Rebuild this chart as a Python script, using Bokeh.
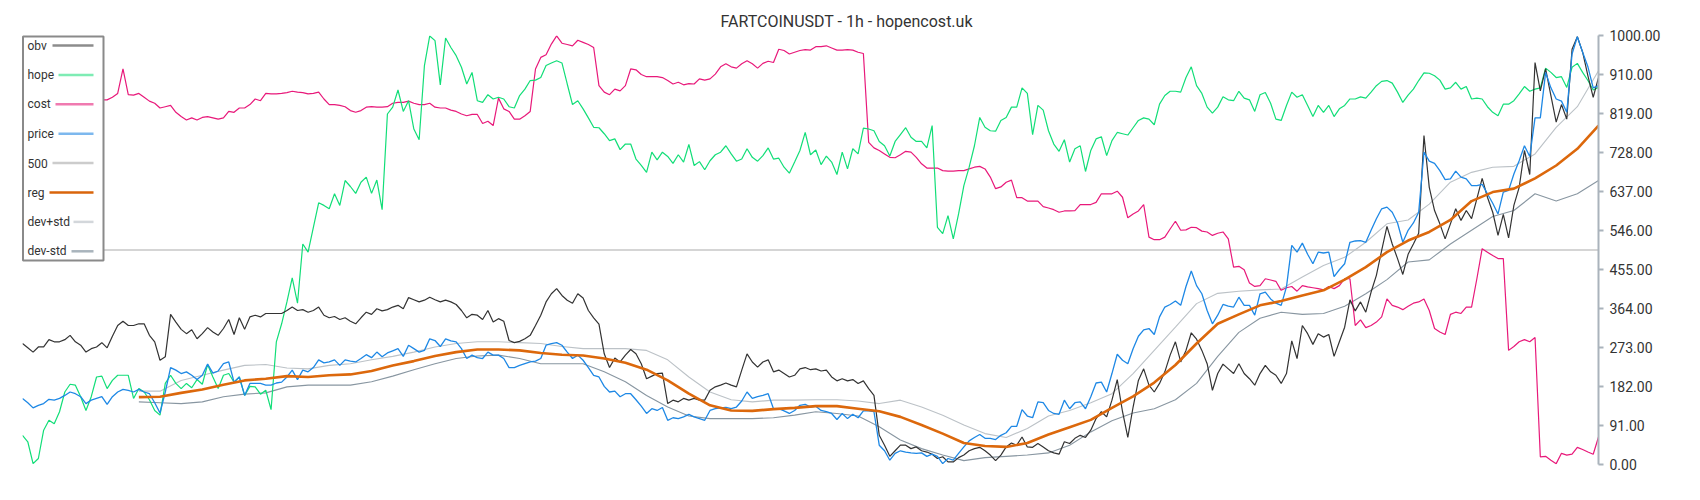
from bokeh.plotting import figure
from bokeh.models import Range1d, FixedTicker, PrintfTickFormatter
from bokeh.core.properties import value
from bokeh.embed import file_html
from bokeh.resources import INLINE

title_text = "FARTCOINUSDT - 1h - hopencost.uk"
y_ticks = [0, 91, 182, 273, 364, 455, 546, 637, 728, 819, 910, 1000]

obv = [
    282, 272, 262, 274, 274, 291, 286, 286, 291, 301,
    286, 278, 262, 270, 274, 284, 272, 299, 324, 334,
    324, 324, 328, 328, 301, 286, 243, 251, 350, 332,
    315, 305, 314, 293, 305, 319, 309, 301, 317, 338,
    303, 342, 315, 344, 348, 344, 352, 352, 352, 352,
    359, 367, 359, 361, 355, 359, 367, 348, 342, 345,
    338, 342, 334, 328, 342, 355, 350, 363, 358, 361,
    367, 371, 363, 389, 384, 379, 383, 390, 384, 379,
    383, 379, 373, 359, 342, 350, 348, 338, 359, 332,
    340, 334, 289, 284, 287, 293, 301, 324, 348, 379,
    398, 410, 394, 383, 376, 398, 388, 359, 342, 327,
    258, 226, 248, 239, 255, 268, 258, 235, 200, 206,
    212, 213, 142, 150, 146, 154, 150, 154, 150, 150,
    173, 181, 185, 190, 185, 181, 220, 258, 239, 227,
    239, 244, 216, 220, 212, 204, 208, 223, 226, 221,
    223, 218, 220, 204, 195, 200, 195, 198, 189, 195,
    177, 161, 68, 45, 19, 32, 45, 45, 37, 41,
    32, 29, 24, 14, 18, 6, 6, 16, 22, 32,
    37, 40, 32, 22, 9, 22, 41, 50, 45, 64,
    41, 40, 49, 41, 32, 27, 24, 53, 49, 61,
    68, 63, 80, 107, 123, 111, 150, 198, 123, 63,
    134, 196, 223, 185, 169, 189, 216, 255, 286, 239,
    266, 307, 292, 266, 235, 173, 212, 234, 223, 212,
    235, 212, 200, 185, 212, 231, 216, 208, 189, 212,
    288, 247, 324, 305, 280, 305, 297, 303, 252, 286,
    320, 384, 358, 379, 355, 402, 441, 499, 555, 514,
    480, 443, 490, 514, 539, 767, 646, 592, 561, 526,
    561, 596, 569, 592, 573, 619, 667, 623, 588, 534,
    583, 528, 604, 646, 732, 676, 937, 871, 922, 860,
    798, 839, 805, 968, 997, 961, 906, 856, 902,
]

hope = [
    68, 53, 2, 14, 80, 103, 95, 123, 169, 187,
    185, 158, 126, 158, 204, 206, 177, 196, 208, 208,
    208, 154, 177, 169, 151, 126, 115, 189, 208, 189,
    177, 189, 179, 198, 187, 233, 204, 177, 208, 212,
    192, 204, 161, 182, 181, 164, 173, 128, 286, 328,
    379, 435, 376, 514, 495, 553, 610, 604, 596, 631,
    604, 662, 648, 632, 658, 670, 632, 663, 594, 817,
    833, 873, 823, 848, 782, 757, 930, 999, 988, 885,
    994, 972, 953, 926, 887, 914, 848, 844, 862, 852,
    856, 852, 834, 831, 860, 875, 895, 896, 902, 930,
    936, 941, 936, 887, 839, 848, 829, 808, 786, 785,
    771, 755, 759, 734, 747, 747, 712, 697, 681, 728,
    710, 728, 718, 702, 722, 705, 746, 697, 706, 687,
    708, 722, 728, 743, 724, 707, 712, 736, 716, 707,
    720, 738, 712, 714, 693, 679, 705, 732, 774, 722,
    733, 699, 719, 705, 676, 728, 689, 736, 724, 784,
    782, 778, 753, 743, 719, 753, 769, 785, 763, 753,
    753, 738, 790, 553, 538, 580, 526, 584, 650, 693,
    743, 809, 786, 778, 777, 802, 809, 833, 833, 878,
    865, 769, 837, 826, 778, 747, 730, 757, 705, 736,
    743, 683, 732, 759, 764, 720, 755, 774, 771, 768,
    785, 802, 808, 805, 792, 840, 860, 870, 870, 868,
    902, 927, 883, 865, 833, 819, 833, 857, 850, 848,
    870, 854, 850, 823, 862, 867, 842, 805, 802, 837,
    868, 856, 862, 837, 811, 837, 821, 837, 811, 829,
    837, 852, 852, 857, 854, 868, 883, 893, 895, 889,
    868, 844, 861, 875, 895, 913, 912, 906, 896, 875,
    878, 891, 875, 881, 852, 854, 852, 834, 821, 813,
    840, 840, 848, 864, 881, 870, 875, 878, 924, 914,
    902, 904, 879, 926, 935, 914, 895, 873, 879,
]

cost = [
    848, 852, 850, 846, 850, 855, 851, 847, 850, 853,
    849, 846, 850, 852, 849, 850, 850, 856, 865, 922,
    862, 861, 865, 856, 847, 842, 831, 834, 837, 821,
    811, 803, 808, 803, 809, 811, 808, 805, 808, 823,
    821, 831, 831, 839, 852, 848, 865, 864, 864, 865,
    867, 870, 868, 867, 864, 865, 868, 852, 839, 839,
    837, 834, 825, 821, 825, 833, 834, 833, 833, 834,
    842, 844, 844, 847, 842, 839, 839, 842, 833, 831,
    831, 826, 823, 817, 813, 816, 816, 795, 800, 790,
    854, 829, 823, 805, 805, 813, 823, 922, 949, 955,
    980, 999, 982, 979, 976, 989, 984, 979, 972, 883,
    868, 862, 875, 871, 883, 922, 920, 909, 904, 904,
    904, 902, 895, 887, 891, 885, 888, 887, 899, 896,
    899, 910, 927, 934, 927, 924, 934, 941, 934, 924,
    935, 940, 937, 968, 965, 957, 961, 965, 967, 966,
    974, 974, 976, 971, 966, 966, 967, 966, 961, 958,
    751, 738, 732, 724, 716, 715, 722, 730, 728, 716,
    701, 691, 691, 691, 685, 684, 684, 685, 685, 689,
    693, 695, 689, 670, 643, 647, 658, 663, 622, 622,
    614, 614, 614, 601, 598, 594, 588, 591, 591, 592,
    606, 606, 606, 611, 631, 631, 631, 637, 623, 575,
    584, 591, 606, 530, 524, 524, 530, 549, 567, 546,
    547, 553, 552, 544, 542, 534, 539, 542, 526, 460,
    462, 454, 423, 415, 417, 433, 430, 427, 406, 412,
    415, 404, 417, 414, 412, 410, 407, 415, 410, 417,
    433, 433, 324, 337, 319, 324, 332, 344, 386, 371,
    367, 361, 369, 376, 379, 386, 359, 317, 309, 303,
    350, 355, 352, 367, 367, 433, 503, 495, 487, 480,
    480, 266, 275, 286, 291, 286, 296, 18, 19, 10,
    2, 26, 22, 24, 40, 35, 29, 24, 64,
]

price = [
    154, 144, 132, 138, 142, 152, 150, 154, 161, 169,
    165, 158, 142, 150, 154, 158, 140, 158, 169, 175,
    173, 169, 175, 169, 165, 144, 120, 169, 226, 220,
    212, 216, 208, 198, 208, 234, 213, 218, 235, 239,
    192, 204, 161, 189, 189, 189, 185, 185, 190, 192,
    204, 220, 198, 220, 216, 226, 244, 237, 239, 244,
    231, 244, 241, 239, 247, 256, 249, 262, 251, 260,
    265, 270, 252, 278, 270, 262, 266, 293, 289, 275,
    293, 288, 286, 270, 247, 255, 249, 247, 262, 255,
    255, 247, 226, 226, 231, 235, 239, 241, 247, 278,
    282, 284, 278, 262, 247, 255, 243, 226, 208, 204,
    182, 169, 171, 158, 165, 165, 151, 136, 119, 130,
    126, 133, 103, 109, 107, 111, 117, 111, 107, 103,
    126, 130, 132, 133, 130, 134, 148, 169, 154, 158,
    161, 165, 130, 130, 125, 119, 126, 138, 140, 134,
    136, 126, 123, 119, 105, 119, 107, 117, 109, 125,
    125, 123, 45, 32, 10, 26, 32, 29, 27, 26,
    27, 19, 24, 19, 2, 14, 10, 26, 41, 55,
    63, 70, 61, 61, 58, 68, 74, 89, 89, 128,
    113, 109, 146, 144, 126, 119, 117, 150, 130, 144,
    146, 130, 158, 190, 192, 169, 212, 257, 243, 235,
    270, 299, 314, 317, 303, 344, 367, 373, 381, 371,
    415, 451, 417, 398, 359, 328, 348, 373, 369, 367,
    390, 371, 371, 348, 398, 402, 386, 376, 371, 414,
    511, 495, 516, 490, 468, 495, 493, 495, 438, 454,
    468, 518, 521, 522, 518, 546, 573, 596, 600, 588,
    563, 518, 546, 563, 588, 728, 707, 702, 685, 664,
    666, 684, 670, 666, 650, 650, 653, 631, 609, 584,
    635, 639, 677, 708, 743, 718, 808, 808, 914, 878,
    852, 847, 821, 957, 997, 961, 927, 878, 883,
]

level_500 = 500

# smoothed series sampled every 4 bars, starting at bar 22
smooth_start = 22
smooth_step = 4
reg = [
    157, 158, 167, 175, 186, 196, 200, 206, 204, 208,
    210, 218, 231, 241, 253, 262, 268, 268, 266, 260, 256, 254, 247, 237, 221,
    196, 165, 138, 126, 125, 129, 132, 136, 136, 130, 124, 111, 92, 72, 50,
    43, 41, 50, 70, 87, 104, 132, 159, 191, 232, 282, 328, 350, 371, 381,
    394, 406, 431, 460, 495, 522, 542, 570, 614, 635, 643, 667, 697, 736, 790,
]
dev_plus_std = [
    171, 171, 196, 208, 220, 231, 233, 225, 223, 231,
    235, 244, 252, 262, 274, 282, 286, 286, 284, 282, 275, 270, 270, 270, 266,
    244, 204, 169, 151, 146, 150, 150, 151, 151, 148, 142, 150, 134, 115, 92,
    72, 63, 84, 113, 126, 144, 165, 212, 266, 320, 375, 399, 404, 407, 409,
    437, 464, 483, 518, 561, 570, 607, 658, 681, 693, 695, 724, 786, 834, 918,
]
dev_minus_std = [
    146, 144, 142, 146, 158, 164, 167, 181, 185, 185,
    185, 193, 206, 221, 235, 247, 253, 255, 247, 235, 235, 235, 216, 193, 161,
    134, 113, 107, 107, 107, 109, 115, 123, 119, 113, 88, 57, 37, 22, 9,
    16, 19, 22, 27, 45, 76, 102, 120, 130, 151, 189, 252, 308, 341, 355,
    350, 352, 369, 398, 431, 472, 477, 514, 546, 578, 592, 631, 614, 631, 662,
]

legend_names = ["obv", "hope", "cost", "price", "500", "reg", "dev+std", "dev-std"]

# ---------------------------------------------------------------- layout
FRAME_W, FRAME_H = 1576, 429
FRAME_L, FRAME_T = 30, 35          # page pixel position of the frame
X_MAX = len(obv) - 1

bars = list(range(len(obv)))
bars_smooth = [smooth_start + smooth_step * k for k in range(len(reg))]

p = figure(frame_width=FRAME_W, frame_height=FRAME_H,
           x_range=Range1d(0, X_MAX), y_range=Range1d(0, 1000),
           output_backend="svg", toolbar_location=None,
           x_axis_location=None, y_axis_location="right",
           min_border_left=FRAME_L - 8, min_border_top=35,
           min_border_bottom=14, min_border_right=14,
           title=title_text, background_fill_color="white",
           border_fill_color="white")

p.title.text_font = "Roboto"
p.title.text_font_size = "16px"
p.title.text_font_style = "normal"
p.title.text_color = "#333333"
p.title.align = "left"
p.title.offset = 698

p.grid.visible = False
p.outline_line_color = None

ax = p.yaxis[0]
ax.ticker = FixedTicker(ticks=y_ticks)
ax.formatter = PrintfTickFormatter(format="%.2f")
ax.axis_line_color = "#aab3bc"
ax.axis_line_width = 2
ax.major_tick_line_color = "#aab3bc"
ax.major_tick_line_width = 2
ax.major_tick_out = 5
ax.major_tick_in = 0
ax.minor_tick_line_color = None
ax.major_label_text_font = "Roboto"
ax.major_label_text_font_size = "14px"
ax.major_label_text_color = "#333333"
ax.major_label_standoff = 6

# ---------------------------------------------------------------- series
p.line(bars, [level_500] * len(bars), line_color="#c8c8c8", line_width=1.6)
p.line(bars_smooth, dev_plus_std, line_color="#bcc2c7", line_width=1.1)
p.line(bars_smooth, dev_minus_std, line_color="#8896a1", line_width=1.1)
p.line(bars, cost, line_color="#e8197a", line_width=1.2)
p.line(bars, hope, line_color="#12de78", line_width=1.2)
p.line(bars, obv, line_color="#333333", line_width=1.2)
p.line(bars, price, line_color="#1e88e5", line_width=1.3)
p.line(bars_smooth, reg, line_color="#dc680c", line_width=2.6)

# ---------------------------------------------------------------- legend box (label then swatch)
def sx(px):
    return (px - FRAME_L) * X_MAX / FRAME_W


def sy(py):
    return 1000 - (py - FRAME_T) * 1000 / FRAME_H


swatch_colors = ["#8c8c8c", "#7eecb4", "#f07ab0", "#7db8ee",
                 "#cccccc", "#d9650b", "#d3d7db", "#a9b4bc"]
swatch_start_px = [60, 66, 63, 66, 60, 57, 81, 79]
row_py = [45 + 29.4 * k for k in range(len(legend_names))]

p.quad(left=[sx(30.5)], right=[sx(111)], top=[sy(36)], bottom=[sy(260)],
       fill_color="white", line_color="#8a8a8a", line_width=2, level="overlay")
p.segment(x0=[sx(s) for s in swatch_start_px], y0=[sy(r) for r in row_py],
          x1=[sx(101)] * len(row_py), y1=[sy(r) for r in row_py],
          line_color=swatch_colors, line_width=2.5, level="overlay")
p.text(x=[sx(35)] * len(row_py), y=[sy(r) for r in row_py], text=legend_names,
       text_font=value("Roboto"), text_font_size="12px", text_color="#333333",
       text_baseline="middle", text_align="left", level="overlay")

open("out.html", "w").write(file_html(p, INLINE))
